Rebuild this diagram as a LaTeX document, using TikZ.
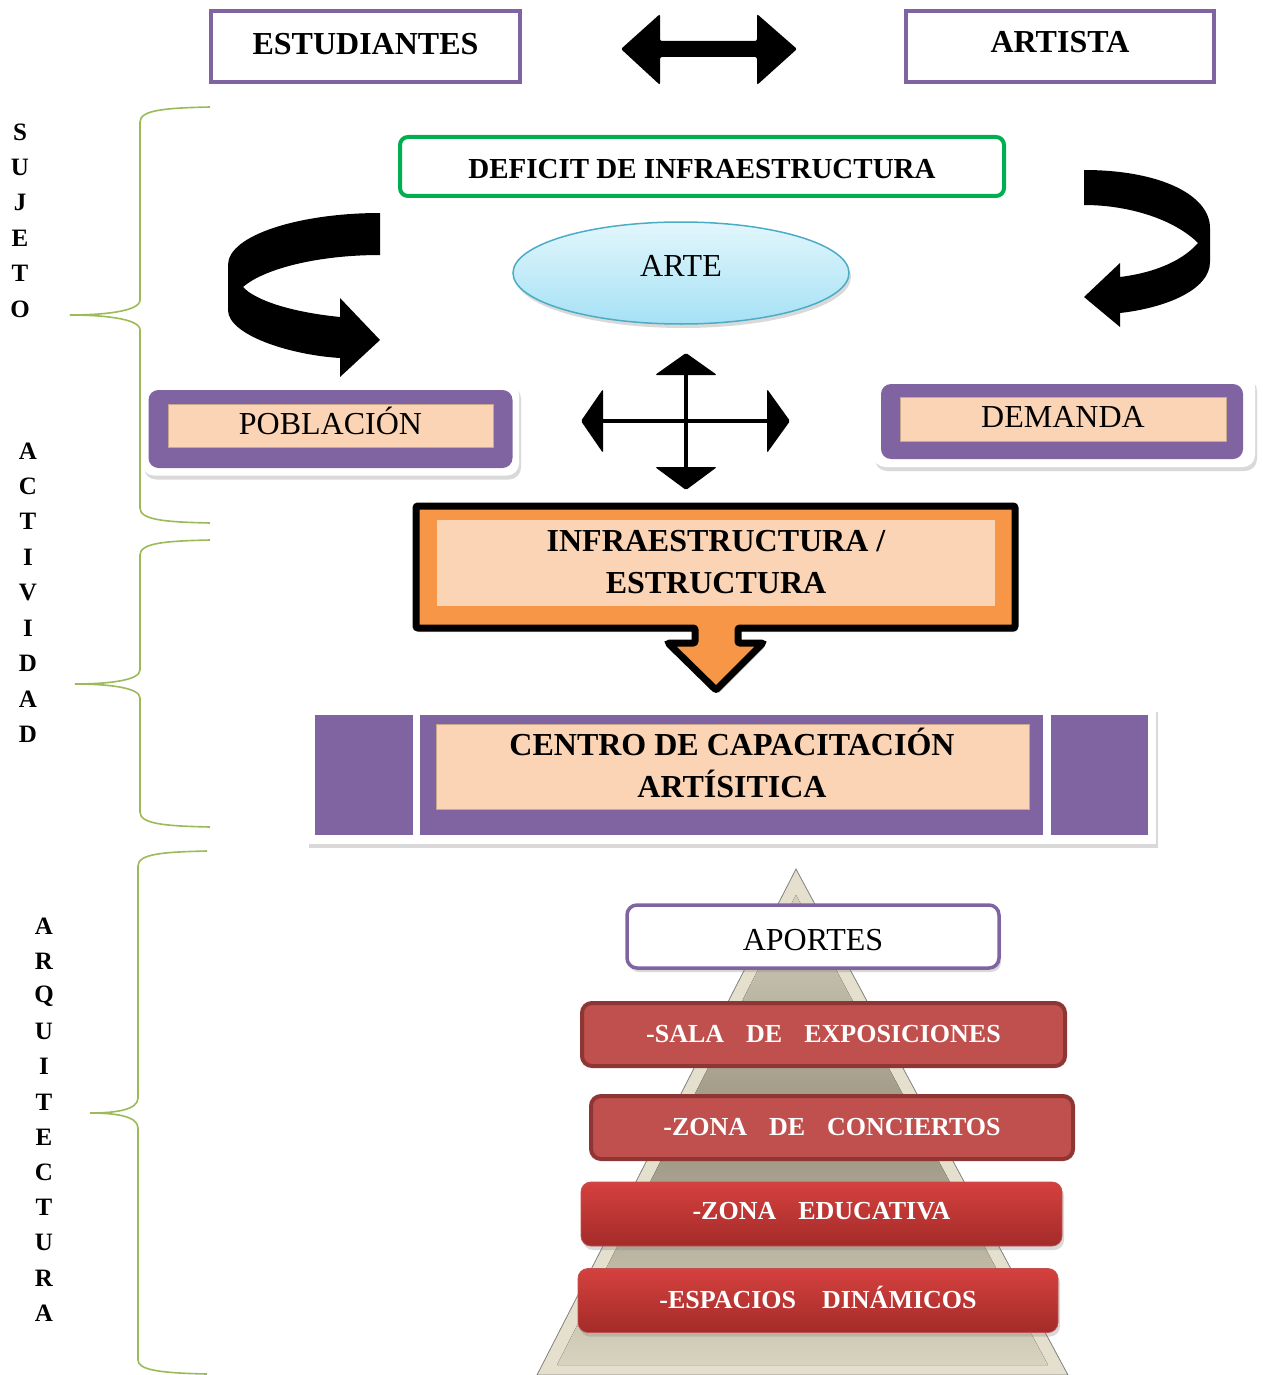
\documentclass[tikz,border=0pt]{standalone}
\usepackage{fontspec}
\setmainfont{Liberation Serif}
\usetikzlibrary{shapes.geometric,shadows}
\definecolor{purp}{HTML}{8064A2}
\definecolor{peach}{HTML}{FAD4B4}
\definecolor{peachb}{HTML}{C9A88E}
\definecolor{bracegreen}{HTML}{9BBB59}
\definecolor{defgreen}{HTML}{00B050}
\definecolor{orng}{HTML}{F79646}
\definecolor{arteb}{HTML}{4BACC6}
\definecolor{artetop}{HTML}{E2F6FC}
\definecolor{artebot}{HTML}{A6E1F5}
\definecolor{redA}{HTML}{C0504D}
\definecolor{redB}{HTML}{8E3634}
\definecolor{glossTop}{HTML}{D5413E}
\definecolor{glossBot}{HTML}{A32B29}
\definecolor{pyrOut}{HTML}{E4E0CD}
\definecolor{pyrTop}{HTML}{D6D2C0}
\definecolor{pyrMid}{HTML}{9A937F}
\definecolor{pyrBot}{HTML}{D8D3BF}
\newcommand\fbig{\fontsize{32}{42}\selectfont}
\newcommand\fmid{\fontsize{29}{35}\selectfont}
\newcommand\fsml{\fontsize{26}{31}\selectfont}
\newcommand\flet{\fontsize{25}{30}\selectfont}
% text whose baseline sits #1 above the node centre, with no height of its own
\newcommand\basetx[2]{\raisebox{#1}[0pt][0pt]{#2}}
\begin{document}
\begin{tikzpicture}[x=1pt,y=-1pt,
  topbox/.style={draw=purp, line width=3.5pt, fill=white, minimum width=309pt, minimum height=71pt, inner sep=0pt, font=\fbig\bfseries},
  softshadow/.style={drop shadow={opacity=0.3, shadow xshift=2pt, shadow yshift=-4pt}},
  whitebox/.style={fill=white, rounded corners=12pt, inner sep=0pt, softshadow},
  purpbox/.style={fill=purp, rounded corners=10pt, inner sep=0pt},
  peachbox/.style={fill=peach, draw=peachb, line width=0.6pt, inner sep=0pt},
  bracestyle/.style={draw=bracegreen, line width=1.6pt},
  letter/.style={font=\flet\bfseries, inner sep=0pt},
  redbox/.style={fill=redA, draw=redB, line width=4pt, rounded corners=10pt, minimum height=63pt, inner sep=0pt, text=white, font=\fsml\bfseries},
  glossbox/.style={top color=glossTop, bottom color=glossBot, draw=redA, line width=0.8pt, rounded corners=10pt, minimum height=64pt, inner sep=0pt, text=white, font=\fsml\bfseries, softshadow}
]
\useasboundingbox (0,0) rectangle (1262,1375);

% ---------- top row ----------
\node[topbox] (est) at (365.5,46.5) {\basetx{-8.1pt}{ESTUDIANTES}};
\node[topbox, minimum width=308pt] (art) at (1060,46.5) {\basetx{-6.1pt}{ARTISTA}};
\fill[rounded corners=2pt] (621,49) -- (660,14) -- (660,41) -- (757,41) -- (757,14) -- (797,49) -- (757,85) -- (757,57) -- (660,57) -- (660,85) -- cycle;

% ---------- braces ----------
\draw[bracestyle] (210,107) .. controls (165,108) and (140,110) .. (140,122) -- (140,300)
  .. controls (140,312) and (100,315) .. (70,315) .. controls (100,315) and (140,318) .. (140,330)
  -- (140,508) .. controls (140,520) and (165,522) .. (210,523);
\draw[bracestyle] (210,540) .. controls (165,541) and (140,543) .. (140,555) -- (140,670)
  .. controls (140,681) and (105,684) .. (75,684) .. controls (105,684) and (140,687) .. (140,698)
  -- (140,812) .. controls (140,824) and (165,826) .. (210,827);
\draw[bracestyle] (207,851) .. controls (162,852) and (138,854) .. (138,866) -- (138,1098)
  .. controls (138,1110) and (115,1113) .. (90,1113) .. controls (115,1113) and (138,1116) .. (138,1128)
  -- (138,1360) .. controls (138,1370) and (160,1373) .. (207,1374);

% ---------- vertical words ----------
\foreach \l [count=\i] in {S,U,J,E,T,O}
  \node[letter] (suj\i) at (20,{132+35.4*(\i-1)}) {\l};
\foreach \l [count=\i] in {A,C,T,I,V,I,D,A,D}
  \node[letter] (act\i) at (28,{451+35.4*(\i-1)}) {\l};
\foreach \l [count=\i] in {A,R,Q,U,I,T,E,C,T,U,R,A}
  \node[letter] (arq\i) at (44,{926+35.2*(\i-1)}) {\l};

% ---------- deficit + arte ----------
\node[draw=defgreen, line width=4pt, rounded corners=8pt, fill=white, minimum width=604pt, minimum height=59pt, inner sep=0pt, font=\fmid\bfseries] (def) at (702,166.5) {\basetx{-12.1pt}{DEFICIT DE INFRAESTRUCTURA}};
\node[ellipse, draw=arteb, line width=1.5pt, top color=artetop, bottom color=artebot, minimum width=336pt, minimum height=102pt, inner sep=0pt, font=\fbig, softshadow] (arte) at (681,273) {\basetx{-3.6pt}{ARTE}};

% ---------- curved arrows ----------
\fill (380,213) .. controls (300,213) and (228,235) .. (228,265) -- (228,310)
  .. controls (228,335) and (290,355) .. (340,358) -- (340,377) -- (380,340) -- (340,298) -- (340,317)
  .. controls (290,312) and (255,300) .. (243,287) .. controls (265,268) and (320,255) .. (380,255) -- cycle;
\fill (1084,170) .. controls (1160,170) and (1210,195) .. (1210,228) -- (1210,262)
  .. controls (1210,290) and (1165,308) .. (1120,313) -- (1120,327) -- (1084,297) -- (1120,263) -- (1120,277)
  .. controls (1160,272) and (1185,258) .. (1198,243) .. controls (1175,220) and (1130,205) .. (1084,205) -- cycle;

% ---------- four-way arrow ----------
\draw[line width=4pt] (600,421) -- (770,421);
\draw[line width=4pt] (686,370) -- (686,470);
\fill[rounded corners=1.5pt] (581,421) -- (603,389) -- (603,453) -- cycle;
\fill[rounded corners=1.5pt] (790,421) -- (767,389) -- (767,453) -- cycle;
\fill[rounded corners=1.5pt] (686,353) -- (717,375) -- (655,375) -- cycle;
\fill[rounded corners=1.5pt] (686,490) -- (717,467) -- (655,467) -- cycle;

% ---------- poblacion ----------
\node[whitebox, minimum width=377pt, minimum height=93pt] (pobw) at (330.5,429) {};
\node[purpbox, minimum width=364pt, minimum height=78pt] (pobp) at (330.5,429) {};
\node[peachbox, minimum width=325pt, minimum height=43pt, font=\fbig] (pob) at (330.5,425.5) {\basetx{-9.1pt}{POBLACIÓN}};

% ---------- demanda ----------
\node[whitebox, minimum width=382pt, minimum height=92pt] (demw) at (1064,421) {};
\node[purpbox, minimum width=362pt, minimum height=75pt] (demp) at (1062,421.5) {};
\node[peachbox, minimum width=326pt, minimum height=44pt, font=\fbig] (dem) at (1063,419) {\basetx{-8.6pt}{DEMANDA}};

% ---------- infraestructura callout ----------
\filldraw[fill=orng, draw=black, line width=7pt, rounded corners=2pt, softshadow]
  (416,506) -- (1015,506) -- (1015,628) -- (738,628) -- (738,643) -- (763,643) -- (716,690)
  -- (668,643) -- (695,643) -- (695,628) -- (416,628) -- cycle;
\node[fill=peach, minimum width=558pt, minimum height=86pt, inner sep=0pt] (infrab) at (716,563) {};
\node[align=center, font=\fbig\bfseries, inner sep=0pt] (infra) at (716,562.5) {INFRAESTRUCTURA /\\ESTRUCTURA};

% ---------- centro ----------
\node[fill=white, minimum width=849pt, minimum height=136pt, inner sep=0pt, softshadow] (cenw) at (731.5,776) {};
\node[fill=purp, minimum width=98pt, minimum height=120pt, inner sep=0pt] (cenl) at (364,775) {};
\node[fill=purp, minimum width=623pt, minimum height=120pt, inner sep=0pt] (cenm) at (731.5,775) {};
\node[fill=purp, minimum width=97pt, minimum height=120pt, inner sep=0pt] (cenr) at (1099.5,775) {};
\node[peachbox, minimum width=593pt, minimum height=85pt] (cenp) at (732.5,766.5) {};
\node[align=center, font=\fbig\bfseries, inner sep=0pt] (centro) at (732,763) {CENTRO DE CAPACITACIÓN\\ARTÍSITICA};

% ---------- pyramid ----------
\filldraw[fill=pyrOut, draw=gray, line width=0.8pt] (796,869) -- (1068,1375) -- (537,1375) -- cycle;
\fill[top color=pyrTop, bottom color=pyrBot, middle color=pyrMid] (796,895) -- (1048,1365) -- (557,1365) -- cycle;

\node[draw=purp, line width=3.5pt, rounded corners=10pt, fill=white, minimum width=372pt, minimum height=63pt, inner sep=0pt, font=\fbig, softshadow] (apo) at (813,936.5) {\basetx{-14.1pt}{APORTES}};

\node[redbox, minimum width=483pt] (sala) at (823.5,1034.5) {\basetx{-8.1pt}{-SALA\hspace{22pt}DE\hspace{22pt}EXPOSICIONES}};
\node[redbox, minimum width=482pt] (conc) at (832,1127.5) {\basetx{-8.1pt}{-ZONA\hspace{22pt}DE\hspace{22pt}CONCIERTOS}};
\node[glossbox, minimum width=481pt] (edu) at (821.5,1214) {\basetx{-5.6pt}{-ZONA\hspace{22pt}EDUCATIVA}};
\node[glossbox, minimum width=480pt] (esp) at (818,1300.5) {\basetx{-8.1pt}{-ESPACIOS\hspace{26pt}DINÁMICOS}};
\end{tikzpicture}
\end{document}
